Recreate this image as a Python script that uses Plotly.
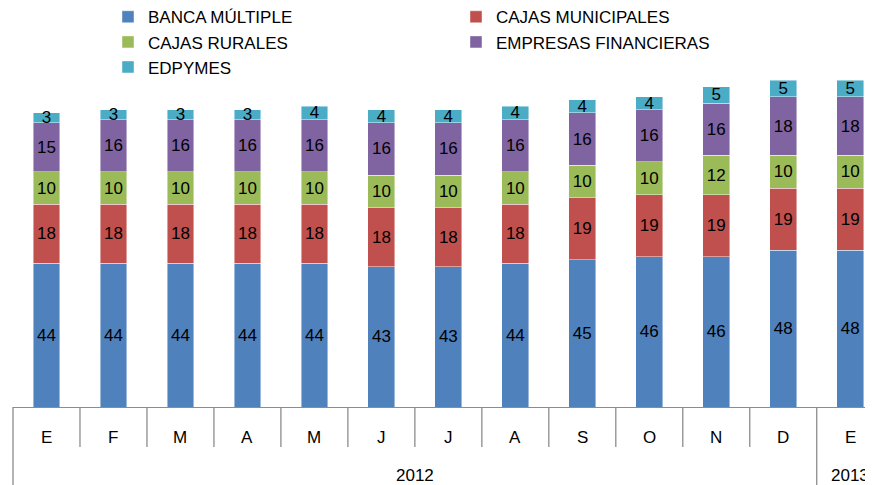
import plotly.graph_objects as go

# ---- data ----
months = ["E", "F", "M", "A", "M", "J", "J", "A", "S", "O", "N", "D", "E"]
years = ["2012"] * 12 + ["2013"]
banca_multiple = [44, 44, 44, 44, 44, 43, 43, 44, 45, 46, 46, 48, 48]
cajas_municipales = [18, 18, 18, 18, 18, 18, 18, 18, 19, 19, 19, 19, 19]
cajas_rurales = [10, 10, 10, 10, 10, 10, 10, 10, 10, 10, 12, 10, 10]
empresas_financieras = [15, 16, 16, 16, 16, 16, 16, 16, 16, 16, 16, 18, 18]
edpymes = [3, 3, 3, 3, 4, 4, 4, 4, 4, 4, 5, 5, 5]

series_names = ["BANCA MÚLTIPLE", "CAJAS MUNICIPALES", "CAJAS RURALES",
                "EMPRESAS FINANCIERAS", "EDPYMES"]
series_values = [banca_multiple, cajas_municipales, cajas_rurales,
                 empresas_financieras, edpymes]
series_colors = ["#4F81BD", "#C0504D", "#9BBB59", "#8064A2", "#4BACC6"]

FONT = "Liberation Sans, Arial, sans-serif"

x_idx = list(range(len(months)))

fig = go.Figure()
for name, vals, color in zip(series_names, series_values, series_colors):
    fig.add_trace(go.Bar(
        x=x_idx, y=vals, name=name,
        marker=dict(color=color, line=dict(color="rgba(255,255,255,0.55)", width=0.8)),
        text=vals, textposition="inside", insidetextanchor="middle",
        textangle=0, constraintext="none",
        textfont=dict(size=17, color="black", family=FONT),
        hoverinfo="skip",
    ))

# ---- axis decorations (two-level category axis) ----
shapes = []
annotations = []
line_col = "#8C8C8C"
group_starts = [i for i in range(len(years)) if i == 0 or years[i] != years[i - 1]]
for i in range(1, len(months)):
    is_group = i in group_starts
    shapes.append(dict(type="line", xref="x", yref="paper", ysizemode="pixel", yanchor=0,
                       x0=i - 0.5, x1=i - 0.5, y0=0, y1=-80 if is_group else -40,
                       line=dict(color=line_col, width=1.3)))
shapes.append(dict(type="line", xref="paper", yref="paper", ysizemode="pixel", yanchor=0,
                   x0=0, x1=0, y0=0, y1=-80, line=dict(color=line_col, width=1.3)))

for i, m in enumerate(months):
    annotations.append(dict(x=i, y=0, xref="x", yref="paper", yshift=-30,
                            yanchor="middle", xanchor="center", showarrow=False,
                            text=m, font=dict(size=17, family=FONT, color="black")))
for gi, s in enumerate(group_starts):
    e = group_starts[gi + 1] - 1 if gi + 1 < len(group_starts) else len(years) - 1
    annotations.append(dict(x=(s + e) / 2, y=0, xref="x", yref="paper", yshift=-68,
                            yanchor="middle", xanchor="center", showarrow=False,
                            text=years[s], font=dict(size=17, family=FONT, color="black")))

# page has an 8px body margin: figure is 865x477 drawn at (8, 8)
fig.update_layout(
    barmode="stack", bargap=0.6,
    width=865, height=477,
    margin=dict(l=5, r=0, t=62, b=78, autoexpand=False),
    paper_bgcolor="white", plot_bgcolor="white",
    font=dict(family=FONT, color="black"),
    showlegend=True,
    legend=dict(orientation="h", xref="container", yref="paper",
                x=0.1156, y=1.21, xanchor="left", yanchor="top",
                entrywidth=303, entrywidthmode="pixels", traceorder="normal",
                font=dict(size=17, family=FONT, color="black"),
                bgcolor="rgba(0,0,0,0)", itemclick=False),
    xaxis=dict(range=[-0.5, 12.34], showticklabels=False, showgrid=False, zeroline=False,
               showline=True, linecolor=line_col, linewidth=1.3, ticks="", fixedrange=True),
    yaxis=dict(range=[0, 103.15], visible=False, fixedrange=True),
    shapes=shapes, annotations=annotations,
)

fig.write_html("out.html")
